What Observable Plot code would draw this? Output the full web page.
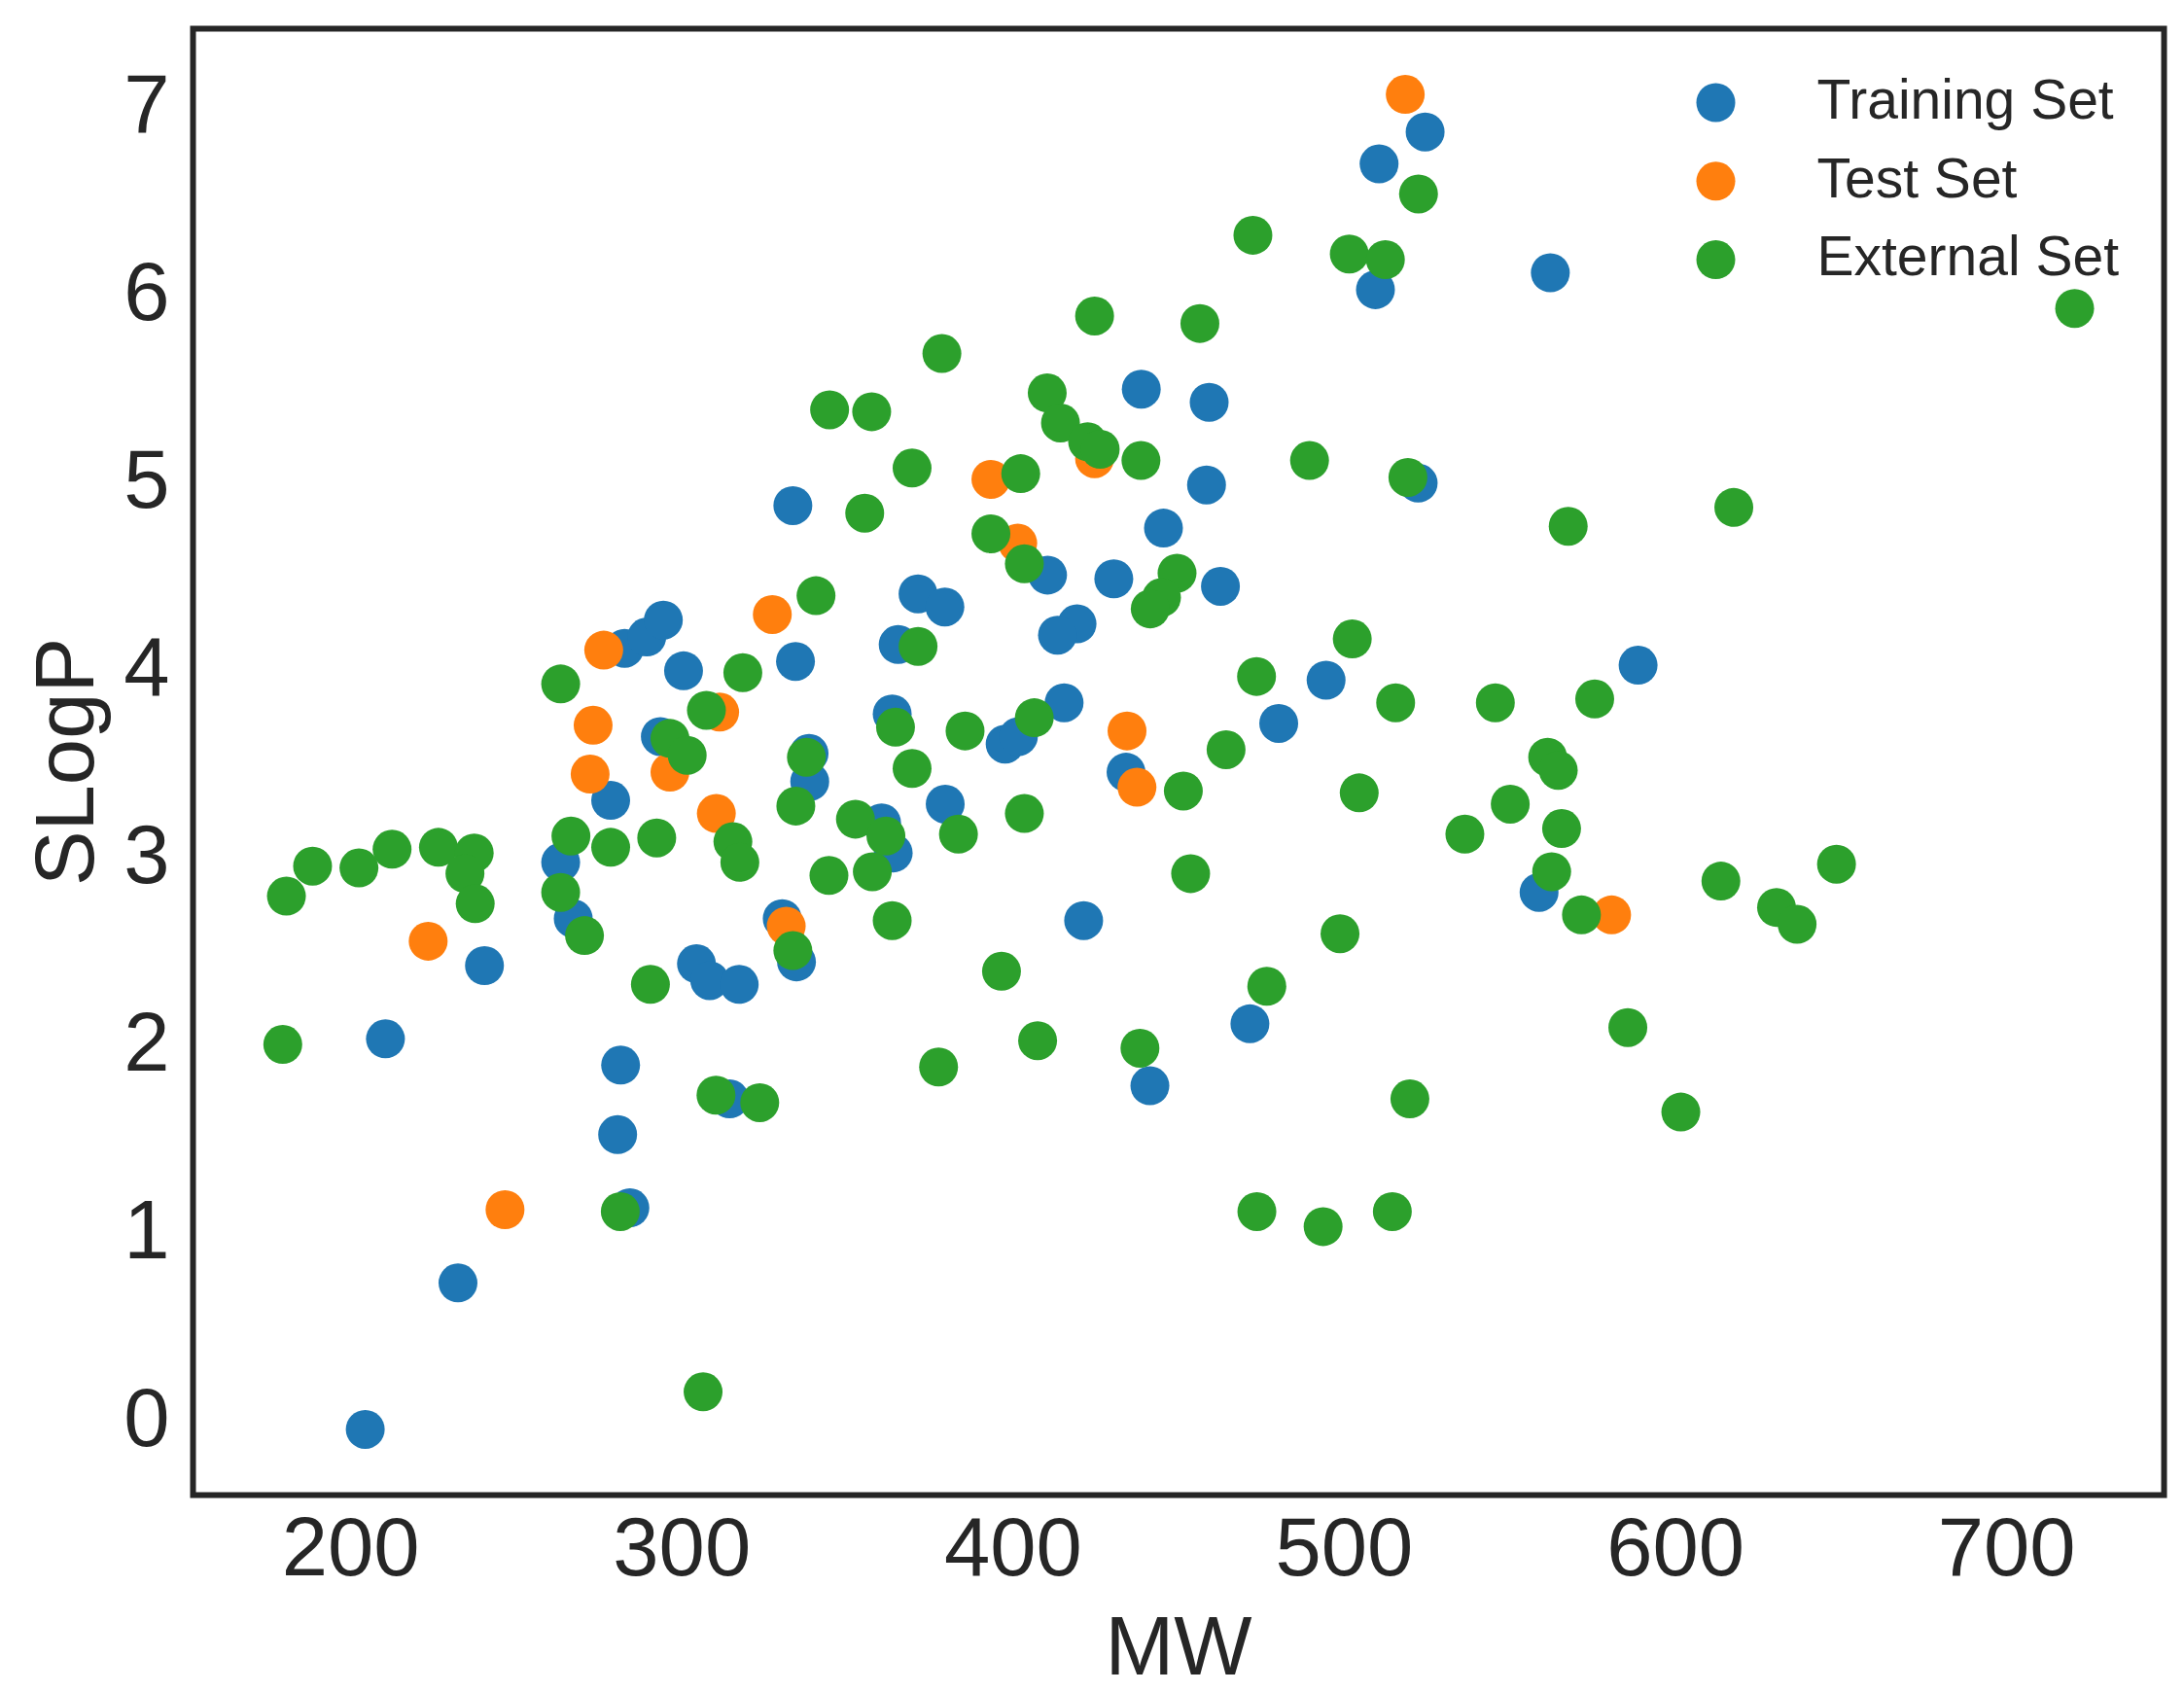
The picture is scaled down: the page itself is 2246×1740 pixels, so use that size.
<!DOCTYPE html>
<html>
<head>
<meta charset="utf-8">
<script src="https://cdn.jsdelivr.net/npm/d3@7"></script>
<script src="https://cdn.jsdelivr.net/npm/@observablehq/plot@0.6"></script>
<style>
  html, body { margin: 0; padding: 0; background: #ffffff; overflow: hidden; }
  #chart svg { display: block; }
</style>
</head>
<body>
<div id="chart"></div>
<script>
const categories = ["Training Set", "Test Set", "External Set"];
const colors = ["#1f77b4", "#ff7f0e", "#2ca02c"];
const xTicks = [200, 300, 400, 500, 600, 700];
const yTicks = [0, 1, 2, 3, 4, 5, 6, 7];

const trainMW = [204.4, 210.5, 232.4, 240.4, 263.4, 267.2, 278.5, 281.5, 280.6, 284.3,
  282.7, 289.4, 294.4, 300.5, 293.5, 304.4, 308.4, 317.3, 314.4, 333.5,
  334.3, 338.4, 338.6, 330.3, 334.6, 365.3, 363.5, 360.3, 363.8, 421.3,
  441.3, 471.5, 438.7, 459.2, 458.4, 522.3, 445.4, 410.4, 430.4, 462.6,
  371.3, 379.4, 419.3, 413.4, 494.5, 480.2, 434.1, 415.4, 397.6, 401.6,
  379.5, 524.4, 510.5, 509.4, 562.2, 588.7, 558.8];
const trainSLogP = [-0.05, 2.03, 0.73, 2.42, 2.97, 2.67, 3.30, 1.89, 1.52, 1.13,
  4.11, 4.17, 4.26, 3.99, 3.64, 2.43, 2.34, 2.32, 1.71, 4.87,
  4.04, 3.55, 3.40, 2.67, 2.44, 4.13, 3.76, 3.18, 3.02, 2.66,
  1.78, 2.11, 5.49, 5.42, 4.98, 4.99, 4.75, 4.50, 4.48, 4.44,
  4.40, 4.33, 4.24, 4.18, 3.94, 3.71, 3.45, 3.82, 3.60, 3.64,
  3.28, 6.86, 6.69, 6.02, 6.11, 4.02, 2.81];

const testMW = [223.4, 246.6, 276.4, 273.2, 272.3, 296.4, 311.4, 310.4, 327.3, 331.5,
  393.3, 401.4, 424.6, 434.4, 437.4, 518.4, 580.7];
const testSLogP = [2.55, 1.12, 4.10, 3.70, 3.44, 3.45, 3.77, 3.23, 4.29, 2.63,
  5.01, 4.67, 5.12, 3.67, 3.37, 7.06, 2.69];

const extMW = [179.5, 180.6, 188.5, 202.5, 212.5, 226.5, 237.3, 234.5, 237.6, 263.4,
  266.5, 263.4, 270.6, 278.5, 281.4, 292.4, 290.5, 296.4, 301.6, 307.4,
  318.4, 310.3, 323.5, 306.4, 315.4, 317.5, 333.5, 334.4, 337.6, 340.5,
  355.2, 344.6, 357.3, 352.4, 357.5, 344.4, 363.5, 364.5, 361.6, 369.5,
  378.5, 371.3, 369.5, 385.5, 383.5, 403.4, 406.4, 393.3, 403.4, 402.3,
  396.5, 407.4, 377.5, 410.3, 414.3, 422.5, 426.3, 424.6, 438.6, 449.5,
  444.8, 441.4, 438.3, 453.6, 456.4, 464.3, 451.4, 472.4, 473.5, 476.6,
  473.6, 489.5, 493.6, 498.7, 501.5, 502.4, 504.5, 512.4, 515.5, 514.5,
  519.2, 519.8, 522.4, 536.4, 545.6, 550.1, 561.4, 564.6, 565.6, 562.6,
  571.6, 567.6, 575.6, 585.6, 601.6, 613.7, 617.6, 630.5, 636.7, 648.6,
  720.5];
const extSLogP = [2.00, 2.79, 2.95, 2.94, 3.04, 3.05, 3.02, 2.91, 2.75, 3.92,
  3.11, 2.81, 2.58, 3.05, 1.11, 3.10, 2.32, 3.63, 3.54, 3.78,
  3.98, 1.73, 1.69, 0.15, 3.08, 2.97, 2.50, 3.27, 3.53, 4.39,
  4.83, 5.38, 5.37, 3.20, 2.92, 2.90, 2.66, 3.69, 3.11, 5.07,
  5.68, 4.12, 3.47, 3.67, 3.12, 3.23, 3.74, 4.72, 4.56, 5.04,
  2.39, 2.02, 1.88, 5.47, 5.31, 5.21, 5.17, 5.88, 5.11, 4.51,
  4.38, 4.32, 1.98, 2.91, 5.84, 3.57, 3.35, 6.31, 3.96, 2.31,
  1.11, 5.11, 1.03, 2.59, 6.21, 4.16, 3.34, 6.18, 3.82, 1.11,
  5.02, 1.71, 6.53, 3.12, 3.82, 3.28, 3.53, 3.46, 3.15, 2.92,
  2.69, 4.76, 3.84, 2.09, 1.64, 2.87, 4.86, 2.73, 2.64, 2.96,
  5.92];

const series = [
  [categories[0], trainMW, trainSLogP],
  [categories[1], testMW, testSLogP],
  [categories[2], extMW, extSLogP]
];
const data = series.flatMap(([set, xs, ys]) => xs.map((mw, i) => ({set, MW: mw, SLogP: ys[i]})));

const W = 2246, H = 1740;
const mL = 198, mR = 21, mT = 29, mB = 203;
const font = "'Liberation Sans', Arial, Helvetica, sans-serif";
const ink = "#262626";

const legendMarks = categories.flatMap((c, i) => [
  Plot.dot([c], {frameAnchor: "top-right", dx: -461, dy: 76 + i * 80.8, r: 20, fill: d => d}),
  Plot.text([c], {frameAnchor: "top-right", dx: -357, dy: 92.7 + i * 80.4, text: d => d,
    textAnchor: "start", lineAnchor: "bottom", fontSize: 57, fill: ink})
]);

const chart = Plot.plot({
  width: W,
  height: H,
  marginLeft: mL,
  marginRight: mR,
  marginTop: mT,
  marginBottom: mB,
  style: {fontFamily: font, fontSize: "85px", color: ink, background: "#ffffff"},
  x: {domain: [152.4, 747.5], ticks: xTicks, tickSize: 0, tickPadding: 22, label: null, tickFormat: d => String(d)},
  y: {domain: [-0.40, 7.41], ticks: yTicks, tickSize: 0, tickPadding: 24, label: null, tickFormat: d => String(d)},
  color: {domain: categories, range: colors, legend: false},
  marks: [
    Plot.dot(data, {x: "MW", y: "SLogP", r: 20, fill: "set", stroke: "none"}),
    ...legendMarks,
    Plot.text(["MW"], {frameAnchor: "bottom", dy: 184, text: d => d, textAnchor: "middle", lineAnchor: "bottom", fontSize: 85, fill: ink}),
    Plot.text(["SLogP"], {frameAnchor: "left", dx: -103, text: d => d, rotate: -90, textAnchor: "middle", lineAnchor: "bottom", fontSize: 85, fill: ink}),
    Plot.frame({stroke: ink, strokeWidth: 6})
  ]
});
document.getElementById("chart").appendChild(chart);
</script>
</body>
</html>
